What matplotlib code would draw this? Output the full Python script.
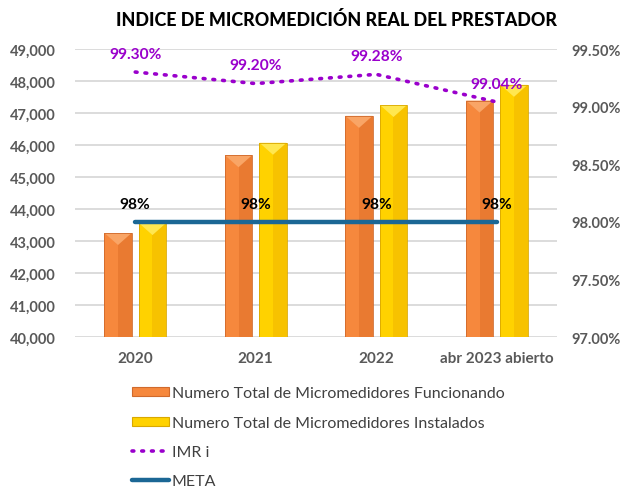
import matplotlib
matplotlib.use("Agg")
import matplotlib.pyplot as plt
import numpy as np
from matplotlib.patches import Polygon, Rectangle
from matplotlib.lines import Line2D
from matplotlib.ticker import FuncFormatter, FixedLocator

plt.rcParams['font.family'] = ['Lato', 'DejaVu Sans']

categories = ["2020", "2021", "2022", "abr 2023 abierto"]
funcionando = [43250, 45680, 46910, 47390]
instalados = [43560, 46070, 47250, 47880]
imr = [99.30, 99.20, 99.28, 99.04]
meta = [98.0, 98.0, 98.0, 98.0]

series_names = ["Numero Total de Micromedidores Funcionando",
                "Numero Total de Micromedidores Instalados",
                "IMR i", "META"]

orange = dict(main="#F6883D", dark="#E97A31", light="#F9A566", edge="#D06A2C")
yellow = dict(main="#FFD200", dark="#F7C200", light="#FFE750", edge="#D9A800")
purple = "#9A00CC"
meta_col = "#1B6795"
gray = "#595959"

fig = plt.figure(figsize=(6.33, 4.89), dpi=100)
ax = fig.add_axes([75/633, 1-338/489, 482/633, 288/489])
ax2 = ax.twinx()

x = np.arange(len(categories))
w = 0.225
off = 0.143
ymin, ymax = 40000, 49000
ax.set_xlim(-0.5, 3.5)
ax.set_ylim(ymin, ymax)

px_y = (ymax - ymin) / 288

def bevel_bar(ax, xc, top, cols):
    x0, x1 = xc - w/2, xc + w/2
    ax.add_patch(Rectangle((x0, ymin), w/2, top - ymin, facecolor=cols["main"],
                           edgecolor="none", zorder=3))
    ax.add_patch(Rectangle((xc, ymin), w/2, top - ymin, facecolor=cols["dark"],
                           edgecolor="none", zorder=3))
    d = 12 * px_y
    ax.add_patch(Polygon([(x0, top), (x1, top), (xc, top - d)], closed=True,
                         facecolor=cols["light"], edgecolor="none", zorder=3.1))
    ax.add_patch(Rectangle((x0, ymin), w, top - ymin, facecolor="none",
                           edgecolor=cols["edge"], lw=0.6, zorder=3.2))

for i in range(len(categories)):
    bevel_bar(ax, x[i] - off, funcionando[i], orange)
    bevel_bar(ax, x[i] + off, instalados[i], yellow)

ax.yaxis.set_major_locator(FixedLocator(np.arange(40000, 49001, 1000)))
ax.yaxis.set_major_formatter(FuncFormatter(lambda v, p: f"{int(v):,}"))
ax.grid(axis="y", color="#D9D9D9", lw=1.3, zorder=0)
ax.set_axisbelow(True)
ax.set_xticks(x)
ax.set_xticklabels(categories)
for s in ax.spines.values():
    s.set_visible(False)
for s in ax2.spines.values():
    s.set_visible(False)
ax.tick_params(axis="y", length=0, pad=14, labelsize=10.5, labelcolor=gray)
ax.tick_params(axis="x", length=0, pad=10, labelsize=11, labelcolor=gray)
for t in ax.get_xticklabels() + ax.get_yticklabels():
    t.set_fontweight("bold")

ax2.set_ylim(97.0, 99.5)
ax2.yaxis.set_major_locator(FixedLocator(np.arange(97.0, 99.51, 0.5)))
ax2.yaxis.set_major_formatter(FuncFormatter(lambda v, p: f"{v:.2f}%"))
ax2.tick_params(axis="y", length=0, pad=10, labelsize=10.5, labelcolor=gray)
for t in ax2.get_yticklabels():
    t.set_fontweight("bold")

ax2.plot(x, imr, color=purple, lw=2.6, linestyle=(0, (0.5, 2.2)),
         dash_capstyle="round", zorder=5)
ax2.plot(x, meta, color=meta_col, lw=3.2, solid_capstyle="round", zorder=5)

for i in range(len(categories)):
    ax2.annotate(f"{imr[i]:.2f}%", (x[i], imr[i]), xytext=(0, 8),
                 textcoords="offset points", ha="center", va="bottom",
                 color=purple, fontsize=11.2, fontweight="bold", zorder=6)
    ax2.annotate(f"{meta[i]:.0f}%", (x[i], meta[i]), xytext=(0, 8),
                 textcoords="offset points", ha="center", va="bottom",
                 color="black", fontsize=11.2, fontweight="bold", zorder=6)

fig.text(336.5/633, 1-20/489, "INDICE DE MICROMEDICIÓN REAL DEL PRESTADOR",
         ha="center", va="center", fontsize=12.9, fontweight="black", color="black")

handles = [
    Rectangle((0, 0), 1, 1, facecolor=orange["main"], edgecolor=orange["edge"], lw=0.8),
    Rectangle((0, 0), 1, 1, facecolor=yellow["main"], edgecolor=yellow["edge"], lw=0.8),
    Line2D([0], [0], color=purple, lw=2.6, linestyle=(0, (0.5, 2.2)), dash_capstyle="round"),
    Line2D([0], [0], color=meta_col, lw=3.2, solid_capstyle="round"),
]
leg = fig.legend(handles, series_names, loc="upper left",
                 bbox_to_anchor=(132/633, 1-387.5/489), frameon=False,
                 fontsize=11.5, handlelength=2.3, handleheight=0.5,
                 handletextpad=0.2, labelspacing=0.96, borderpad=0,
                 borderaxespad=0)
for t in leg.get_texts():
    t.set_color("#404040")

fig.savefig("out.png", dpi=100)
